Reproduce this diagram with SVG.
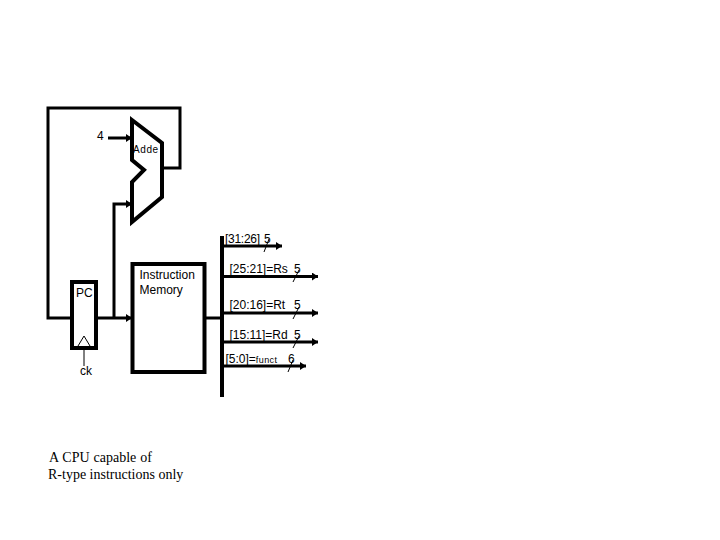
<svg xmlns="http://www.w3.org/2000/svg" width="720" height="540" viewBox="0 0 720 540">
<defs>
<style>
.t{font-family:"Liberation Sans",Arial,sans-serif;font-size:12px;fill:#000}
.s{font-family:"Liberation Serif","Times New Roman",serif;font-size:14px;fill:#000}
.w{fill:none;stroke:#000;stroke-width:3}
.b{fill:none;stroke:#000;stroke-width:4}
.thin{fill:none;stroke:#000;stroke-width:1}
</style>
<marker id="a" markerUnits="userSpaceOnUse" markerWidth="6" markerHeight="8" refX="6" refY="4" orient="auto"><path d="M0 0L6 4L0 8Z" fill="#000"/></marker>
</defs>
<rect width="720" height="540" fill="#fff"/>
<g id="connectors">
<path class="w" d="M72 318H48V108H180V168H162"/>
<path class="w" d="M108 138H132" marker-end="url(#a)"/>
<path class="w" d="M96 318H132" marker-end="url(#a)"/>
<path class="w" d="M114 318V204H132" marker-end="url(#a)"/>
<path class="w" d="M204 318H222"/>
<path class="b" d="M222 236V397"/>
<path class="w" d="M222 246H282" marker-end="url(#a)"/>
<path class="w" d="M222 276.500H318" marker-end="url(#a)"/>
<path class="w" d="M222 313H318" marker-end="url(#a)"/>
<path class="w" d="M222 342H318" marker-end="url(#a)"/>
<path class="w" d="M222 366H306" marker-end="url(#a)"/>
<path class="thin" d="M84 346V366"/>
<path class="thin" d="M269 239L264 252M299 270L293 282M299 307L293 319M299 336L293 348M293 360L288 372"/>
</g>
<g id="adder">
<path class="b" d="M132 120L162 143V197L132 222V182L144 170L132 160Z"/>
<text class="t" x="133" y="153" style="font-size:10px;letter-spacing:.6px">Adde</text>
</g>
<text id="label-4" class="t" x="97" y="140">4</text>
<g id="pc">
<rect class="b" x="72" y="282" width="24" height="66"/>
<path class="thin" d="M78 346L84 336L90 346"/>
<text class="t" x="76" y="297">PC</text>
</g>
<text id="label-ck" class="t" x="80" y="375">ck</text>
<g id="instruction-memory">
<rect class="b" x="132.500" y="264" width="72" height="108"/>
<text class="t" x="139.500" y="279">Instruction</text>
<text class="t" x="139.500" y="294">Memory</text>
</g>
<g id="bus-labels">
<text class="t" x="225" y="243" textLength="35">[31:26]</text>
<text class="t" x="264" y="243">5</text>
<text class="t" x="229.500" y="273">[25:21]=Rs</text>
<text class="t" x="294" y="273">5</text>
<text class="t" x="229.500" y="309">[20:16]=Rt</text>
<text class="t" x="294" y="309">5</text>
<text class="t" x="229.500" y="339">[15:11]=Rd</text>
<text class="t" x="294" y="339">5</text>
<text class="t" x="225.500" y="363">[5:0]=<tspan style="font-size:9px;letter-spacing:.4px">funct</tspan></text>
<text class="t" x="288" y="363">6</text>
</g>
<g id="caption">
<text class="s" x="49" y="462" style="word-spacing:.5px">A CPU capable of</text>
<text class="s" x="48" y="479">R-type instructions only</text>
</g>
</svg>
